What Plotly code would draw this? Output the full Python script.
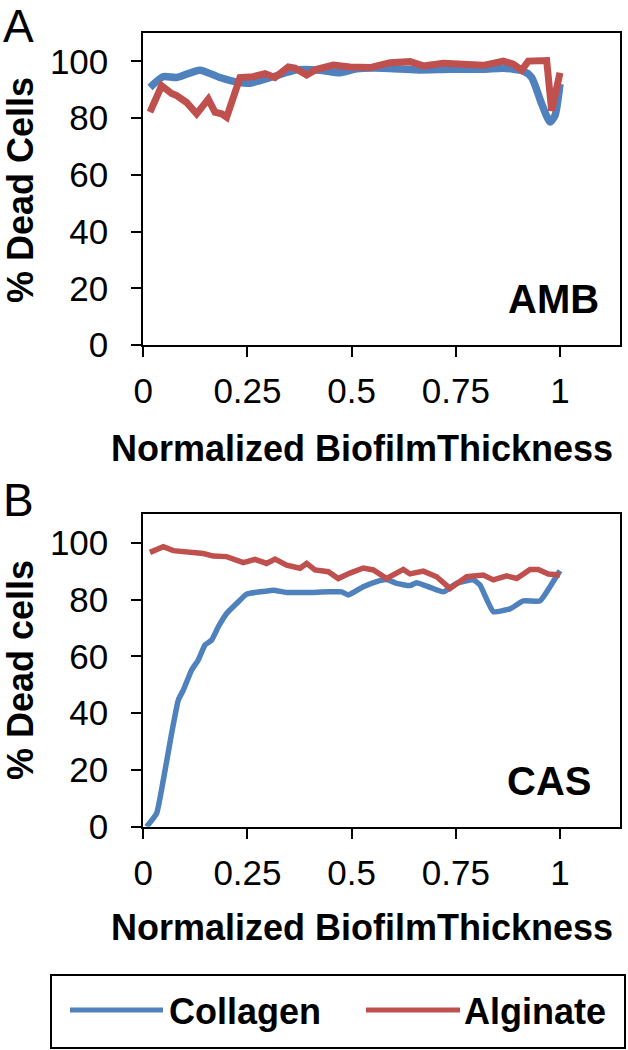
import plotly.graph_objects as go

# ---------------- data ----------------
# Panel A (AMB)
amb_collagen_x = [0.016, 0.048, 0.08, 0.136, 0.184, 0.232, 0.256, 0.312, 0.368, 0.424, 0.472, 0.512,
                  0.576, 0.656, 0.736, 0.816, 0.864, 0.912, 0.932, 0.956, 0.976, 0.988, 1.0]
amb_collagen_y = [90.8, 94.6, 94.3, 96.9, 94.3, 92.5, 92.3, 94.6, 97.0, 96.9, 96.0, 97.4,
                  97.6, 97.0, 97.2, 97.2, 97.6, 96.6, 94.3, 85.0, 78.6, 80.9, 92.0]
amb_alginate_x = [0.016, 0.044, 0.068, 0.08, 0.104, 0.128, 0.156, 0.172, 0.188, 0.2, 0.232, 0.264,
                  0.292, 0.316, 0.348, 0.364, 0.392, 0.416, 0.456, 0.496, 0.544, 0.592, 0.64,
                  0.672, 0.72, 0.768, 0.816, 0.864, 0.888, 0.908, 0.924, 0.968, 0.98, 1.0]
amb_alginate_y = [82.1, 91.4, 88.7, 87.9, 85.5, 81.5, 86.7, 82.1, 81.5, 80.3, 94.3, 94.6,
                  95.7, 94.3, 98.0, 97.6, 95.2, 97.2, 98.7, 98.0, 97.8, 99.5, 99.9,
                  98.4, 99.3, 99.2, 98.6, 100.1, 99.0, 96.9, 100.1, 100.3, 82.6, 96.0]

# Panel B (CAS)
cas_collagen_x = [0.008, 0.032, 0.048, 0.068, 0.084, 0.096, 0.116, 0.132, 0.148, 0.164, 0.18, 0.2,
                  0.224, 0.248, 0.28, 0.312, 0.344, 0.408, 0.448, 0.476, 0.492, 0.528, 0.56,
                  0.584, 0.608, 0.64, 0.656, 0.688, 0.72, 0.752, 0.792, 0.808, 0.84, 0.88,
                  0.912, 0.952, 0.976, 1.0]
cas_collagen_y = [0.0, 4.7, 16.4, 32.9, 44.6, 48.1, 55.2, 58.7, 64.0, 65.7, 70.4, 75.1,
                  78.6, 81.9, 82.7, 83.3, 82.5, 82.5, 82.7, 82.7, 81.6, 84.5, 86.3,
                  87.0, 85.7, 84.9, 85.9, 84.3, 82.7, 85.7, 86.9, 85.1, 75.7, 76.7,
                  79.5, 79.5, 84.5, 90.1]
cas_alginate_x = [0.016, 0.048, 0.072, 0.112, 0.144, 0.168, 0.2, 0.24, 0.268, 0.296, 0.316, 0.344,
                  0.376, 0.392, 0.412, 0.444, 0.468, 0.496, 0.528, 0.552, 0.584, 0.624, 0.64,
                  0.672, 0.704, 0.736, 0.776, 0.816, 0.84, 0.872, 0.896, 0.928, 0.948, 0.972, 1.0]
cas_alginate_y = [96.6, 98.6, 97.2, 96.8, 96.2, 95.3, 95.1, 93.0, 94.1, 92.7, 94.2, 92.1,
                  91.0, 92.7, 90.4, 89.8, 87.4, 89.3, 91.1, 90.4, 87.4, 90.6, 89.0,
                  90.0, 88.0, 83.9, 88.0, 88.6, 86.9, 88.3, 87.4, 90.6, 90.6, 89.0, 88.6]

x_tick_vals = [0, 0.25, 0.5, 0.75, 1]
x_tick_text = ["0", "0.25", "0.5", "0.75", "1"]
y_tick_vals = [0, 20, 40, 60, 80, 100]

series_names = ["Collagen", "Alginate"]
series_colors = ["#4F81BD", "#C0504D"]

# ---------------- layout helpers ----------------
W, H = 628, 1050
FONT = "Arial, Liberation Sans, sans-serif"


def px_x(x):
    return x / W


def px_y(y):
    return 1 - y / H


fig = go.Figure()

fig.add_trace(go.Scatter(x=amb_collagen_x, y=amb_collagen_y, mode="lines", name=series_names[0],
                         line=dict(color=series_colors[0], width=7.5, shape="spline", smoothing=0.6),
                         xaxis="x", yaxis="y", showlegend=False))
fig.add_trace(go.Scatter(x=amb_alginate_x, y=amb_alginate_y, mode="lines", name=series_names[1],
                         line=dict(color=series_colors[1], width=7),
                         xaxis="x", yaxis="y", showlegend=False))
fig.add_trace(go.Scatter(x=cas_collagen_x, y=cas_collagen_y, mode="lines", name=series_names[0],
                         line=dict(color=series_colors[0], width=5.5, shape="spline", smoothing=0.4),
                         xaxis="x2", yaxis="y2", showlegend=False))
fig.add_trace(go.Scatter(x=cas_alginate_x, y=cas_alginate_y, mode="lines", name=series_names[1],
                         line=dict(color=series_colors[1], width=5.5),
                         xaxis="x2", yaxis="y2", showlegend=False))

xdom = [px_x(143.3), px_x(620)]
axis_common = dict(showline=True, linecolor="black", linewidth=2, mirror=True,
                   ticks="outside", ticklen=10, tickwidth=2, tickcolor="black",
                   showgrid=False, zeroline=False, automargin=False,
                   tickfont=dict(family=FONT, size=35, color="black"))

xa = dict(axis_common, range=[0, 1.144], tickvals=x_tick_vals, ticktext=x_tick_text, domain=xdom,
          ticklabelstandoff=4)
ya = dict(axis_common, range=[0, 110], tickvals=y_tick_vals, ticklabelstandoff=16)

fig.update_layout(
    width=W, height=H,
    margin=dict(l=0, r=0, t=0, b=0, pad=0),
    paper_bgcolor="white", plot_bgcolor="white",
    xaxis=dict(xa, anchor="y"),
    yaxis=dict(ya, anchor="x", domain=[px_y(345), px_y(33)]),
    xaxis2=dict(xa, anchor="y2"),
    yaxis2=dict(ya, anchor="x2", domain=[px_y(826.7), px_y(514.3)]),
    showlegend=False,
)

ann = []


def text(x, y, t, size, bold=False, xanchor="center", angle=0):
    ann.append(dict(xref="paper", yref="paper", x=px_x(x), y=px_y(y), text=("<b>%s</b>" % t) if bold else t,
                    showarrow=False, xanchor=xanchor, yanchor="middle", textangle=angle, borderpad=0,
                    font=dict(family=FONT, size=size, color="black")))


# panel letters
text(2, 26, "A", 46, xanchor="left")
text(2, 500, "B", 46, xanchor="left")
# y titles
text(20, 190, "% Dead Cells", 36, bold=True, angle=-90)
text(20, 670, "% Dead cells", 36, bold=True, angle=-90)
# x titles
text(362, 448, "Normalized BiofilmThickness", 36, bold=True)
text(362, 927, "Normalized BiofilmThickness", 36, bold=True)
# drug labels
text(600, 299, "AMB", 40, bold=True, xanchor="right")
text(592, 781, "CAS", 40, bold=True, xanchor="right")

# legend (manual)
shapes = [dict(type="rect", xref="paper", yref="paper", x0=px_x(51), x1=px_x(625), y0=px_y(1048), y1=px_y(975),
               line=dict(color="black", width=2), fillcolor="white", layer="below")]
leg_items = [(70, 163, 168), (366, 460, 463)]
for (lx0, lx1, tx), name, col in zip(leg_items, series_names, series_colors):
    shapes.append(dict(type="line", xref="paper", yref="paper", x0=px_x(lx0), x1=px_x(lx1),
                       y0=px_y(1010), y1=px_y(1010), line=dict(color=col, width=5)))
    text(tx, 1011, name, 36, bold=True, xanchor="left")

fig.update_layout(annotations=ann, shapes=shapes)

fig.write_html("out.html", config={"displayModeBar": False},
               post_script="document.body.style.margin='0';document.body.style.overflow='hidden';")
